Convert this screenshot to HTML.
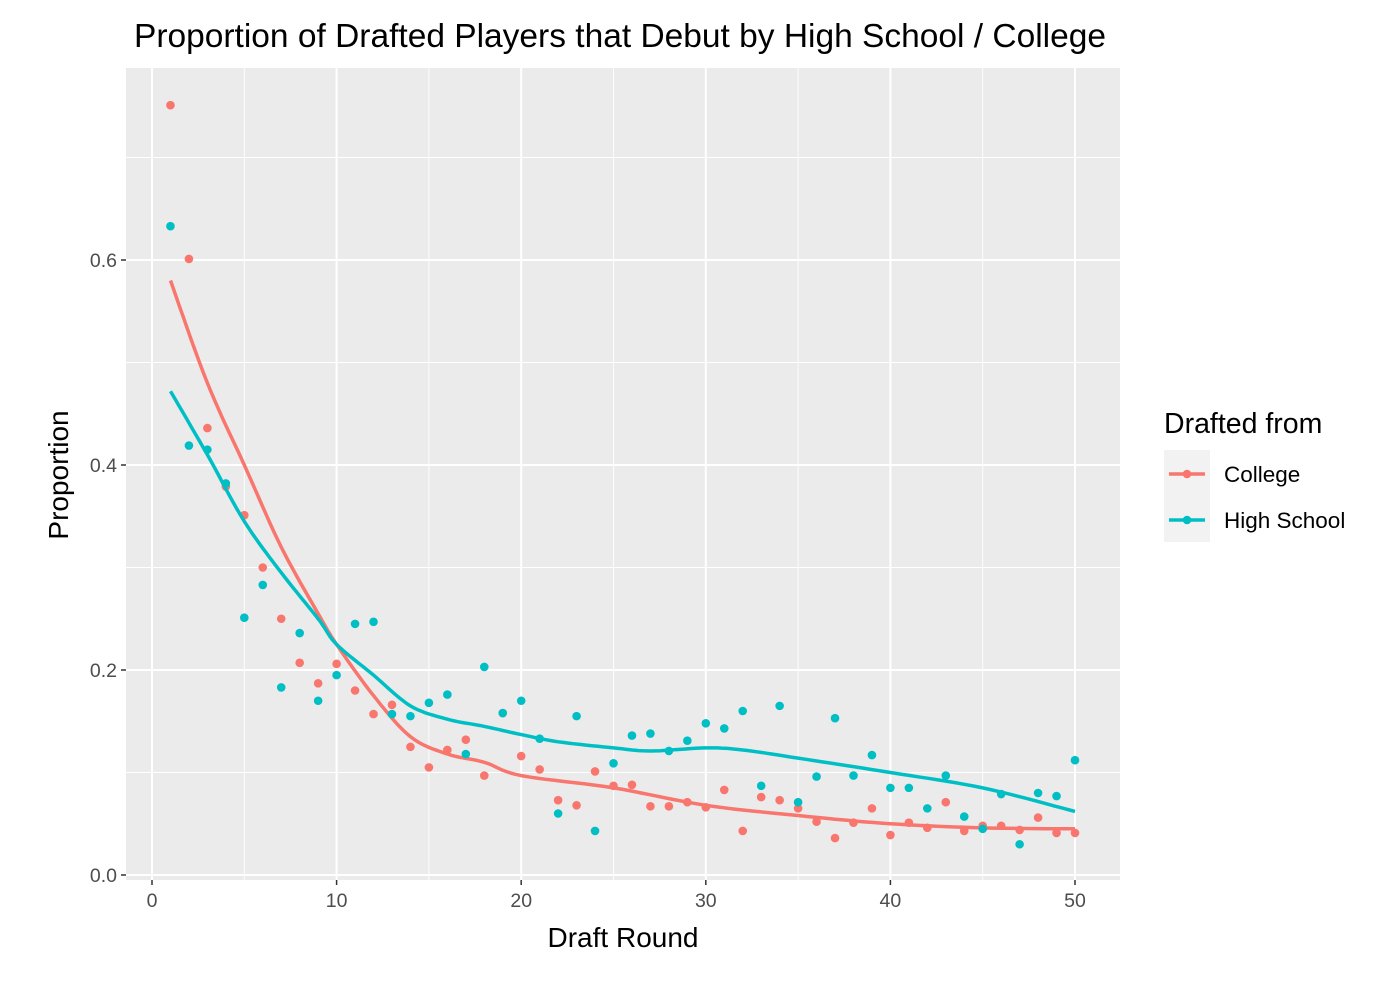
<!DOCTYPE html>
<html><head><meta charset="utf-8"><style>
body{margin:0;background:#fff;font-family:"Liberation Sans",Arial,sans-serif}
svg text{font-family:"Liberation Sans",Arial,sans-serif}
</style></head><body>
<svg id="c" width="1382" height="976" xmlns="http://www.w3.org/2000/svg"></svg>
<script>
const rounds=[];for(let i=1;i<=50;i++)rounds.push(i);
const collegeVals=[0.751,0.601,0.436,0.379,0.351,0.300,0.250,0.207,0.187,0.206,0.180,0.157,0.166,0.125,0.105,0.122,0.132,0.097,0.158,0.116,0.103,0.073,0.068,0.101,0.087,0.088,0.067,0.067,0.071,0.066,0.083,0.043,0.076,0.073,0.065,0.052,0.036,0.051,0.065,0.039,0.051,0.046,0.071,0.043,0.048,0.048,0.044,0.056,0.041,0.041];
const hsVals=[0.633,0.419,0.415,0.382,0.251,0.283,0.183,0.236,0.170,0.195,0.245,0.247,0.157,0.155,0.168,0.176,0.118,0.203,0.158,0.170,0.133,0.060,0.155,0.043,0.109,0.136,0.138,0.121,0.131,0.148,0.143,0.160,0.087,0.165,0.071,0.096,0.153,0.097,0.117,0.085,0.085,0.065,0.097,0.057,0.045,0.079,0.030,0.080,0.077,0.112];
const collegeSmoothX=[1,3,5,7,9,10,12,14,16,18,20,25,30,35,40,45,50];
const collegeSmoothY=[0.58,0.48,0.40,0.32,0.255,0.225,0.175,0.135,0.118,0.11,0.097,0.085,0.068,0.058,0.05,0.046,0.045];
const hsSmoothX=[1,3,5,7,9,10,12,14,16,18,20,22,25,27,30,32,35,40,45,50];
const hsSmoothY=[0.472,0.41,0.345,0.295,0.25,0.225,0.195,0.165,0.152,0.145,0.137,0.13,0.124,0.121,0.124,0.122,0.114,0.1,0.085,0.062];
const xTicks=[0,10,20,30,40,50];
const yTicks=[0.0,0.2,0.4,0.6];
const yTickLabels=["0.0","0.2","0.4","0.6"];

const P={l:126,r:1120,t:68,b:880};
const X=v=>152+v*(1075-152)/50;
const Y=v=>875-v*1025;
const svg=document.getElementById('c');
const NS='http://www.w3.org/2000/svg';
function mk(tag,attrs,parent){const e=document.createElementNS(NS,tag);for(const k in attrs)e.setAttribute(k,attrs[k]);(parent||svg).appendChild(e);return e;}

const panel=mk('rect',{x:P.l,y:P.t,width:P.r-P.l,height:P.b-P.t,fill:'#EBEBEB'});


for(let v=0.1;v<0.75;v+=0.2){const l=mk('line',{x1:P.l,x2:P.r,y1:Y(v),y2:Y(v),stroke:'#fff','stroke-width':0.9});

}
for(let v=5;v<=55;v+=10){if(X(v)>P.r)continue;const l=mk('line',{x1:X(v),x2:X(v),y1:P.t,y2:P.b,stroke:'#fff','stroke-width':0.9});

}
yTicks.forEach((v,i)=>{const l=mk('line',{x1:P.l,x2:P.r,y1:Y(v),y2:Y(v),stroke:'#fff','stroke-width':2});


mk('line',{x1:P.l-5,x2:P.l,y1:Y(v),y2:Y(v),stroke:'#333','stroke-width':1.5});
const t=mk('text',{x:P.l-9,y:Y(v)+7,'text-anchor':'end','font-size':19.5,fill:'#4D4D4D'});t.textContent=yTickLabels[i];

});
xTicks.forEach(v=>{const l=mk('line',{x1:X(v),x2:X(v),y1:P.t,y2:P.b,stroke:'#fff','stroke-width':2});


mk('line',{x1:X(v),x2:X(v),y1:P.b,y2:P.b+5,stroke:'#333','stroke-width':1.5});
const t=mk('text',{x:X(v),y:P.b+27,'text-anchor':'middle','font-size':19.5,fill:'#4D4D4D'});t.textContent=v;

});

function series(vals,sx,sy,col,name){
  vals.forEach((v,i)=>{const c=mk('circle',{cx:X(rounds[i]),cy:Y(v),r:4.3,fill:col});
  
  });
  const pts=[];
  for(let i=0;i<sx.length-1;i++){const p0=i>0?i-1:i,p3=i+2<sx.length?i+2:i+1;
    for(let s=0;s<10;s++){const t=s/10,t2=t*t,t3=t2*t;
      const cr=(a,b,c,d)=>0.5*(2*b+(-a+c)*t+(2*a-5*b+4*c-d)*t2+(-a+3*b-3*c+d)*t3);
      pts.push(X(cr(sx[p0],sx[i],sx[i+1],sx[p3])).toFixed(1)+','+Y(cr(sy[p0],sy[i],sy[i+1],sy[p3])).toFixed(1));}}
  pts.push(X(sx[sx.length-1])+','+Y(sy[sy.length-1]));
  const pl=mk('polyline',{points:pts.join(' '),fill:'none',stroke:col,'stroke-width':3.5,'stroke-linejoin':'round'});
  
  
}
series(collegeVals,collegeSmoothX,collegeSmoothY,'#F8766D','college');
series(hsVals,hsSmoothX,hsSmoothY,'#00BFC4','high-school');

let t=mk('text',{x:620,y:47,'text-anchor':'middle','font-size':33.5,fill:'#000'});t.textContent='Proportion of Drafted Players that Debut by High School / College';


t=mk('text',{x:623,y:947,'text-anchor':'middle','font-size':28,fill:'#000'});t.textContent='Draft Round';


t=mk('text',{x:0,y:0,'text-anchor':'middle','font-size':28,fill:'#000',transform:'translate(68,475) rotate(-90)'});t.textContent='Proportion';


t=mk('text',{x:1164,y:433,'font-size':28.5,fill:'#000'});t.textContent='Drafted from';


mk('rect',{x:1164,y:450,width:46,height:92,fill:'#F2F2F2'});
[['College','#F8766D',474],['High School','#00BFC4',520]].forEach(([n,c,y])=>{
  const g=mk('g',{});
  
  
  mk('line',{x1:1169,x2:1205,y1:y,y2:y,stroke:c,'stroke-width':3.5},g);
  mk('circle',{cx:1187,cy:y,r:4.3,fill:c},g);
  const tt=mk('text',{x:1224,y:y+8,'font-size':22.5,fill:'#000'},g);tt.textContent=n;
});
</script>
</body></html>
